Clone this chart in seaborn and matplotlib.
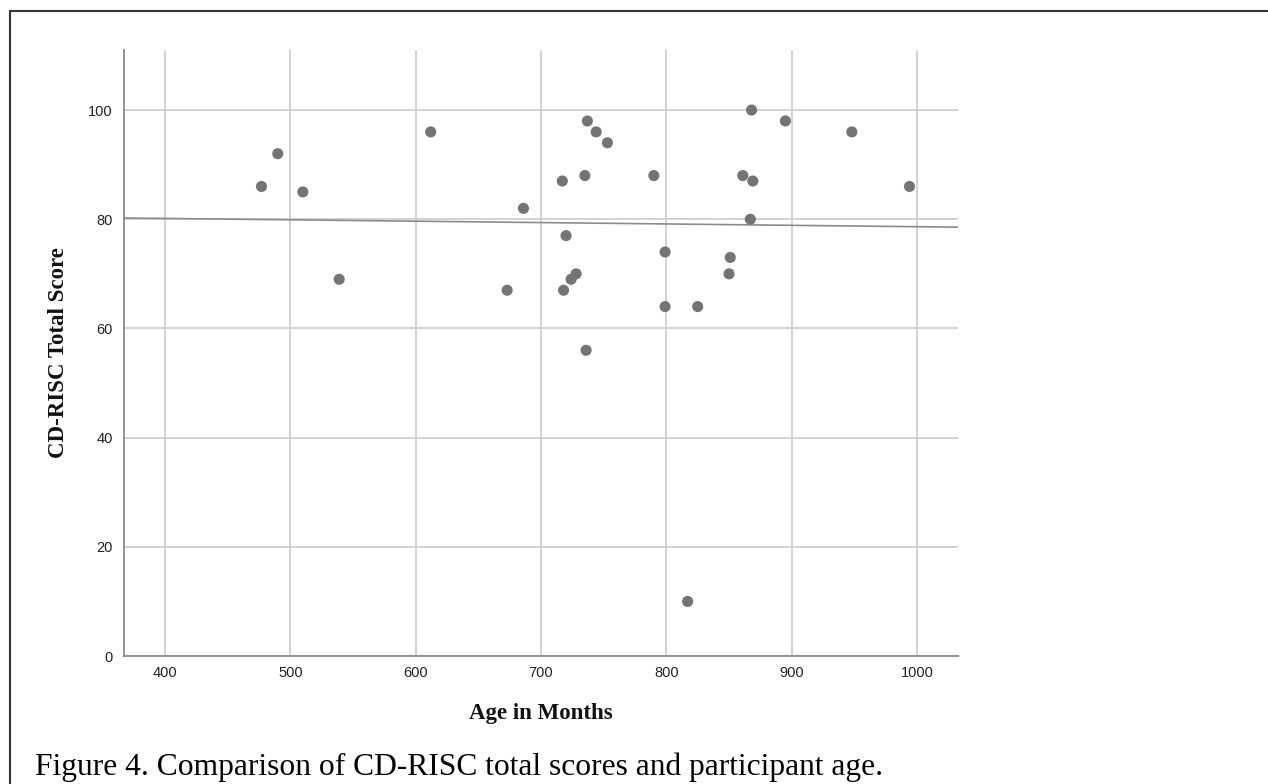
import matplotlib
matplotlib.use("Agg")
import matplotlib.pyplot as plt
from matplotlib.patches import Rectangle
import seaborn as sns
import pandas as pd

# Data
age_months = [477, 490, 510, 539, 612, 673, 686, 717, 718, 720, 724, 728,
              735, 736, 737, 744, 753, 790, 799, 799, 817, 825, 850, 851,
              861, 867, 868, 869, 895, 948, 994]
cdrisc_total = [86, 92, 85, 69, 96, 67, 82, 87, 67, 77, 69, 70,
                88, 56, 98, 96, 94, 88, 74, 64, 10, 64, 70, 73,
                88, 80, 100, 87, 98, 96, 86]
x_ticks = [400, 500, 600, 700, 800, 900, 1000]
y_ticks = [0, 20, 40, 60, 80, 100]

df = pd.DataFrame({"Age in Months": age_months, "CD-RISC Total Score": cdrisc_total})

sns.set_theme(style="white")
plt.rcParams["font.family"] = ["Liberation Sans", "DejaVu Sans"]

W, H = 1268, 784
fig = plt.figure(figsize=(W / 100, H / 100), dpi=100)
ax = fig.add_axes([124 / W, 1 - 656 / H, (958 - 124) / W, (656 - 50) / H])

ax.set_xlim(367.3, 1032.7)
ax.set_ylim(0, 111)
ax.set_xticks(x_ticks)
ax.set_yticks(y_ticks)

ax.grid(True, color="#cfcfcf", linewidth=1.3)
ax.set_axisbelow(True)

sns.regplot(data=df, x="Age in Months", y="CD-RISC Total Score", ax=ax,
            scatter=False, ci=None, truncate=False,
            line_kws={"color": "#8c8c8c", "linewidth": 1.2, "zorder": 2})
sns.scatterplot(data=df, x="Age in Months", y="CD-RISC Total Score", ax=ax,
                color="#747474", s=64, edgecolor="none", linewidth=0, zorder=3)

ax.set_xlim(367.3, 1032.7)
ax.set_ylim(0, 111)

for side in ["top", "right"]:
    ax.spines[side].set_visible(False)
for side in ["left", "bottom"]:
    ax.spines[side].set_color("#8a8a8a")
    ax.spines[side].set_linewidth(1.3)

ax.tick_params(axis="both", length=0, labelsize=10.5, colors="#222222")
ax.tick_params(axis="x", pad=7)
ax.tick_params(axis="y", pad=8)

ax.set_xlabel("Age in Months", fontfamily="Liberation Serif", fontweight="bold",
              fontsize=16.5, color="#111111", labelpad=17)
ax.set_ylabel("CD-RISC Total Score", fontfamily="Liberation Serif", fontweight="bold",
              fontsize=16.5, color="#111111", labelpad=14)

fig.text(35 / W, 1 - 775 / H,
         "Figure 4. Comparison of CD-RISC total scores and participant age.",
         fontfamily="Liberation Serif", fontsize=22.7, color="#000000",
         ha="left", va="baseline")

fig.add_artist(Rectangle((10 / W, -0.05), 1.1, 1 - 11 / H + 0.05,
                         transform=fig.transFigure, fill=False,
                         edgecolor="#333333", linewidth=1.5))

fig.savefig("out.png", dpi=100)
